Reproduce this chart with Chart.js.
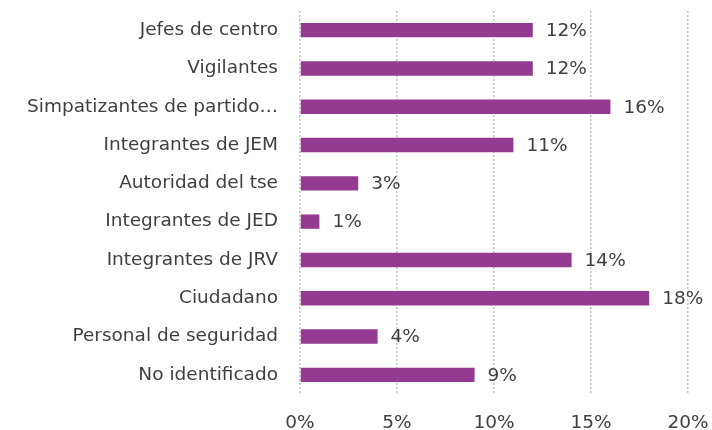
<!DOCTYPE html>
<html>
<head>
<meta charset="utf-8">
<script src="https://cdn.jsdelivr.net/npm/chart.js@4.4.0/dist/chart.umd.min.js"></script>
<style>
  html, body { margin: 0; padding: 0; background: #fff; }
  #wrap { width: 712px; height: 430px; }
</style>
</head>
<body>
<div id="wrap"><canvas id="grafico" width="712" height="430"></canvas></div>
<script>
const categorias = [
  "Jefes de centro",
  "Vigilantes",
  "Simpatizantes de partido…",
  "Integrantes de JEM",
  "Autoridad del tse",
  "Integrantes de JED",
  "Integrantes de JRV",
  "Ciudadano",
  "Personal de seguridad",
  "No identificado"
];
const porcentajes = [12, 12, 16, 11, 3, 1, 14, 18, 4, 9];
const ticksX = [0, 5, 10, 15, 20];

const fuente = "'DejaVu Sans', sans-serif";
const colorTexto = "#404040";

// etiquetas de valor al final de cada barra
const etiquetasValor = {
  id: "etiquetasValor",
  afterDatasetsDraw(chart) {
    const ctx = chart.ctx;
    const meta = chart.getDatasetMeta(0);
    ctx.save();
    ctx.font = "18.5px " + fuente;
    ctx.fillStyle = colorTexto;
    ctx.textAlign = "left";
    ctx.textBaseline = "middle";
    meta.data.forEach((barra, i) => {
      ctx.fillText(porcentajes[i] + "%", barra.x + 13, barra.y + 1);
    });
    ctx.restore();
  }
};

new Chart(document.getElementById("grafico").getContext("2d"), {
  type: "bar",
  data: {
    labels: categorias,
    datasets: [
      {
        data: porcentajes,
        backgroundColor: "#953A91",
        barPercentage: 0.75,
        categoryPercentage: 0.5
      }
    ]
  },
  options: {
    indexAxis: "y",
    responsive: false,
    animation: false,
    layout: { padding: { top: 11, right: 24, left: 0, bottom: 0 } },
    plugins: {
      legend: { display: false },
      tooltip: { enabled: false }
    },
    scales: {
      x: {
        min: 0,
        max: 20,
        afterBuildTicks: (scale) => {
          scale.ticks = ticksX.map((v) => ({ value: v }));
        },
        afterFit: (scale) => {
          scale.height = 36;
          scale.paddingLeft = 0;
          scale.paddingRight = 0;
        },
        border: { display: false, dash: [2, 2] },
        grid: {
          color: "#c4c4c4",
          lineWidth: 1.5,
          drawTicks: false
        },
        ticks: {
          padding: 18,
          color: colorTexto,
          font: { family: fuente, size: 18.5 },
          callback: (v) => v + "%"
        }
      },
      y: {
        afterFit: (scale) => {
          scale.width = 300;
          scale.paddingTop = 0;
          scale.paddingBottom = 0;
        },
        border: { display: false },
        grid: { display: false },
        ticks: {
          padding: 14,
          color: colorTexto,
          font: { family: fuente, size: 18.5 }
        }
      }
    }
  },
  plugins: [etiquetasValor]
});
</script>
</body>
</html>
